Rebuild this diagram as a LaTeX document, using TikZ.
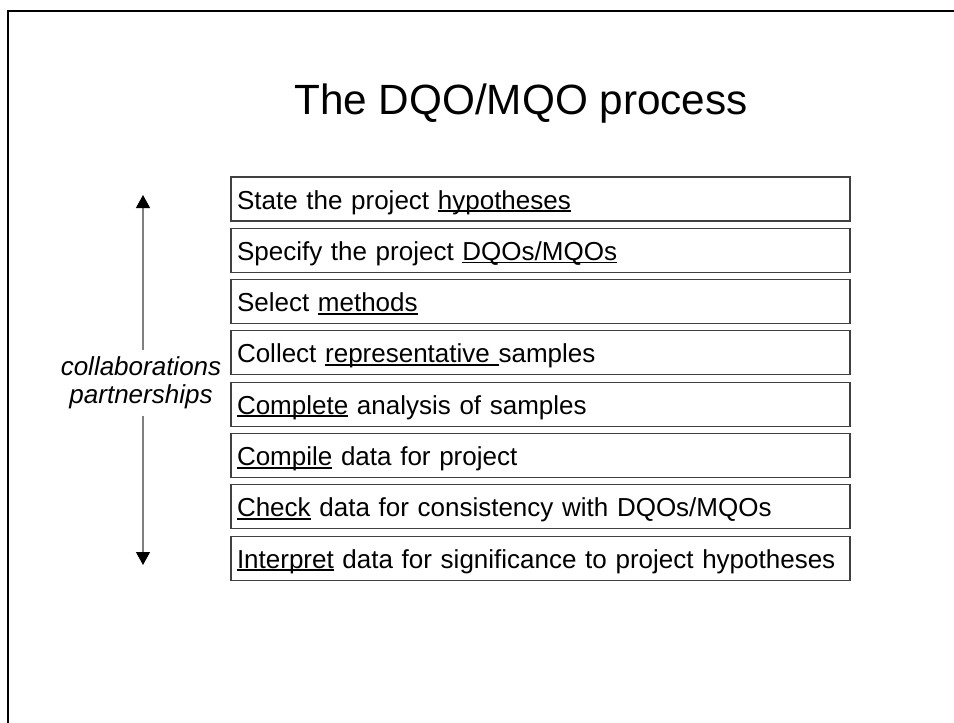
\documentclass[tikz,border=0pt]{standalone}
\usepackage{fontspec}
\setmainfont{Liberation Sans}
\usetikzlibrary{arrows.meta}
\newsavebox{\ulbox}
\newcommand{\uln}[1]{\sbox{\ulbox}{#1}\rlap{\rule[-3pt]{\wd\ulbox}{1.8pt}}\usebox{\ulbox}}

\begin{document}
\begin{tikzpicture}[x=1pt,y=1pt,node distance=51.3pt,
    stepbox/.style={draw=black!75,line width=1.1pt,minimum width=619pt,
      minimum height=44pt,text width=607pt,align=left,inner sep=6pt,
      text height=20pt,text depth=0pt,font=\fontsize{26}{30}\selectfont},
    arr/.style={draw=black!50,line width=1.2pt,
      -{Triangle[width=14pt,length=13pt,color=black]}}]
      \useasboundingbox (0,0) rectangle (954,-723);
      \draw [line width=2pt] (8,-723) |- (954,-11);

      \node (title) [anchor=base,font=\fontsize{42.3}{50}\selectfont] at (521,-114) {The DQO/MQO process};

      \node (s1) [stepbox] at (540.5,-199) {State the project \uln{hypotheses}};
      \node (s2) [stepbox,below of=s1] {Specify the project \uln{DQOs/MQOs}};
      \node (s3) [stepbox,below of=s2] {Select \uln{methods}};
      \node (s4) [stepbox,below of=s3] {Collect \uln{representative }samples};
      \node (s5) [stepbox,below of=s4] {\uln{Complete} analysis of samples};
      \node (s6) [stepbox,below of=s5] {\uln{Compile} data for project};
      \node (s7) [stepbox,below of=s6] {\uln{Check} data for consistency with DQOs/MQOs};
      \node (s8) [stepbox,below of=s7] {\uln{Interpret} data for significance to project hypotheses};

      \coordinate (up)   at (143,-195);
      \coordinate (down) at (143,-565);
      \node (collab) [align=center,inner sep=6pt,font=\itshape\fontsize{26}{28.5}\selectfont] at (141,-383) {collaborations\\partnerships};

      \draw [arr] (collab.north -| up)   -- (up);
      \draw [arr] (collab.south -| down) -- (down);
    \end{tikzpicture}
\end{document}
